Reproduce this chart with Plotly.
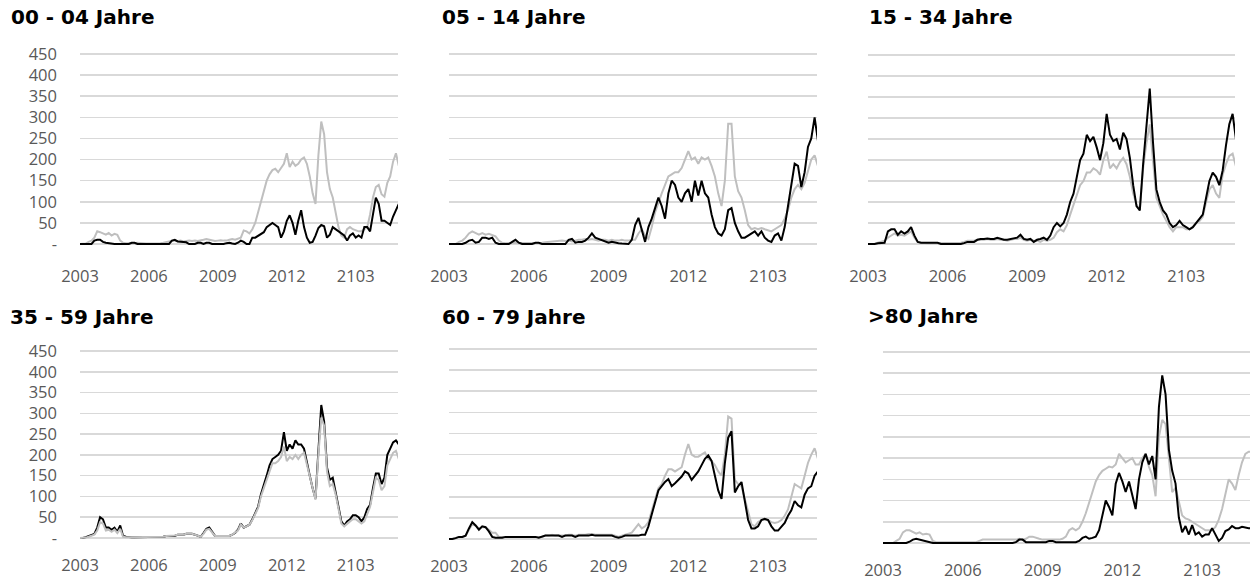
import plotly.graph_objects as go

# ---------------- data ----------------
# time axis: one point every 1/8 year from 2003.0
years = [2003 + i / 8 for i in range(112)]
tick_vals = [2003, 2006, 2009, 2012, 2015]
tick_text = ["2003", "2006", "2009", "2012", "2103"]
y_ticks = [0, 50, 100, 150, 200, 250, 300, 350, 400, 450]
y_tick_text = ["-", "50", "100", "150", "200", "250", "300", "350", "400", "450"]

titles = ["00 - 04 Jahre", "05 - 14 Jahre", "15 - 34 Jahre",
          "35 - 59 Jahre", "60 - 79 Jahre", ">80 Jahre"]

gray_00_04 = [
    0, 0, 1, 5, 8, 15, 30, 28,
    25, 22, 26, 20, 24, 22, 8, 3,
    2, 2, 1, 2, 3, 2, 1, 1,
    1, 1, 1, 2, 2, 3, 5, 6,
    7, 8, 7, 8, 6, 7, 8, 7,
    8, 7, 8, 10, 12, 10, 8, 7,
    8, 9, 8, 8, 10, 12, 10, 12,
    15, 32, 30, 25, 35, 50, 75, 105,
    125, 150, 165, 175, 178, 170, 180, 190,
    215, 182, 195, 185, 190, 200, 205, 190,
    160, 120, 95, 210, 290, 260, 170, 130,
    110, 75, 40, 20, 15, 35, 40, 35,
    32, 30, 30, 35, 40, 70, 110, 135,
    140, 118, 112, 145, 160, 195, 215, 185]
black_00_04 = [
    0, 0, 0, 0, 0, 8, 10, 10,
    5, 3, 2, 0, 0, 0, 0, 0,
    0, 0, 3, 3, 0, 0, 0, 0,
    0, 0, 0, 0, 0, 0, 0, 0,
    8, 10, 6, 5, 5, 4, 0, 0,
    0, 3, 3, 0, 3, 3, 0, 0,
    0, 0, 0, 2, 3, 1, 0, 3,
    8, 5, 0, 0, 15, 15, 20, 25,
    28, 40, 45, 50, 45, 40, 15, 30,
    55, 68, 50, 22, 55, 80, 40, 15,
    3, 5, 20, 38, 45, 42, 15, 22,
    40, 35, 30, 25, 20, 8, 20, 25,
    15, 20, 15, 40, 40, 30, 70, 110,
    95, 55, 55, 50, 45, 65, 80, 95]

gray_05_14 = [
    0, 0, 0, 5, 8, 15, 25, 30,
    25, 22, 26, 22, 24, 20, 18, 8,
    3, 2, 2, 3, 3, 2, 2, 2,
    2, 2, 2, 3, 3, 4, 5, 6,
    7, 8, 8, 7, 8, 6, 8, 10,
    10, 12, 10, 12, 10, 8, 10, 10,
    8, 10, 8, 8, 10, 8, 8, 10,
    10, 25, 35, 20, 12, 40, 75, 100,
    120, 140, 160, 165, 170, 170, 180, 200,
    220, 200, 205, 190, 205, 200, 205, 185,
    160, 120, 90, 150, 285, 285, 160, 125,
    110, 80, 45, 35, 38, 35, 38, 35,
    32, 30, 35, 40, 45, 60, 80, 110,
    130, 140, 130, 145, 170, 200, 210, 185]
black_05_14 = [
    0, 0, 0, 0, 0, 3, 8, 10,
    3, 5, 15, 15, 12, 15, 3, 0,
    0, 0, 0, 5, 10, 3, 0, 0,
    0, 0, 3, 3, 0, 0, 0, 0,
    0, 0, 0, 0, 10, 12, 3, 5,
    5, 8, 15, 25, 15, 12, 8, 5,
    3, 5, 3, 2, 1, 0, 0, 10,
    45, 62, 30, 5, 40, 60, 85, 110,
    90, 60, 120, 150, 140, 110, 100, 120,
    130, 100, 150, 115, 150, 120, 110, 70,
    40, 25, 20, 35, 80, 85, 50, 30,
    15, 15, 20, 25, 30, 20, 30, 15,
    8, 5, 20, 25, 8, 40, 90, 150,
    190, 185, 135, 170, 230, 250, 300, 245]

gray_15_34 = [
    0, 0, 0, 3, 5, 8, 15, 20,
    25, 20, 22, 20, 25, 30, 15, 5,
    3, 2, 2, 2, 2, 2, 2, 2,
    2, 2, 2, 3, 3, 5, 8, 8,
    8, 10, 10, 10, 12, 10, 10, 12,
    10, 10, 8, 10, 12, 12, 15, 10,
    8, 10, 8, 8, 5, 10, 8, 10,
    15, 28, 35, 30, 45, 70, 95, 120,
    140, 150, 170, 170, 180, 175, 165, 200,
    220, 180, 190, 180, 195, 205, 190, 160,
    120, 95, 80, 180, 240, 285, 190, 110,
    90, 70, 55, 40, 30, 40, 40, 40,
    35, 35, 40, 50, 55, 65, 100, 130,
    140, 120, 110, 165, 190, 210, 215, 185]
black_15_34 = [
    0, 0, 0, 2, 3, 3, 30, 35,
    35, 22, 30, 25, 30, 40, 20, 5,
    3, 3, 3, 3, 3, 3, 0, 0,
    0, 0, 0, 0, 0, 2, 5, 5,
    5, 10, 12, 12, 13, 12, 12, 15,
    12, 10, 10, 12, 14, 15, 22, 12,
    10, 12, 5, 10, 12, 15, 10, 20,
    40, 50, 42, 50, 70, 100, 120, 160,
    200, 215, 260, 245, 255, 230, 200, 240,
    310, 260, 245, 250, 225, 265, 250, 205,
    140, 90, 80, 190, 280, 370, 240, 130,
    100, 80, 70, 50, 40, 45, 55, 45,
    40, 35, 40, 50, 58, 70, 110, 150,
    170, 160, 140, 175, 235, 285, 310, 250]

gray_35_59 = [
    0, 0, 1, 3, 5, 8, 18, 38,
    35, 18, 20, 15, 20, 12, 22, 3,
    2, 2, 2, 2, 2, 2, 2, 2,
    2, 2, 2, 2, 3, 3, 5, 5,
    5, 6, 8, 8, 8, 10, 10, 10,
    8, 5, 3, 10, 20, 22, 12, 5,
    5, 5, 5, 5, 5, 8, 12, 18,
    33, 25, 28, 32, 43, 58, 72, 100,
    120, 145, 165, 180, 180, 185, 195, 220,
    185, 195, 190, 200, 190, 200, 205, 175,
    145, 115, 92, 200, 290, 270, 160, 125,
    130, 105, 65, 35, 28, 35, 40, 45,
    45, 40, 35, 40, 60, 75, 110, 145,
    140, 115, 125, 175, 190, 205, 210, 190]
black_35_59 = [
    0, 0, 2, 5, 8, 10, 25, 50,
    45, 25, 25, 20, 25, 15, 30, 5,
    3, 2, 2, 2, 2, 2, 2, 2,
    2, 2, 2, 2, 2, 3, 5, 5,
    5, 5, 8, 8, 8, 10, 10, 10,
    8, 5, 3, 12, 22, 25, 15, 5,
    5, 5, 5, 5, 5, 8, 12, 20,
    35, 25, 28, 32, 45, 60, 75, 105,
    125, 150, 175, 190, 195, 200, 210, 255,
    210, 225, 215, 235, 225, 225, 215, 180,
    150, 120, 95, 210, 320, 280, 170, 140,
    145, 110, 70, 40, 30, 40, 45, 55,
    55, 50, 40, 50, 70, 80, 120, 155,
    155, 130, 145, 200, 215, 230, 235, 225]

gray_60_79 = [
    0, 0, 2, 5, 5, 8, 22, 35,
    32, 25, 28, 28, 22, 15, 15, 5,
    5, 5, 5, 5, 5, 5, 5, 5,
    5, 5, 5, 5, 5, 8, 8, 10,
    8, 8, 8, 8, 10, 10, 8, 10,
    10, 10, 12, 12, 10, 10, 10, 10,
    10, 10, 8, 5, 8, 10, 12, 15,
    25, 35, 25, 30, 40, 65, 95, 120,
    130, 150, 165, 165, 160, 165, 170, 200,
    225, 200, 195, 195, 200, 205, 190, 185,
    175, 160, 150, 200, 290, 285, 140, 130,
    125, 95, 60, 35, 30, 40, 45, 45,
    45, 40, 38, 40, 45, 55, 70, 100,
    130, 125, 120, 150, 180, 200, 215, 190]
black_60_79 = [
    0, 0, 2, 5, 5, 8, 25, 40,
    32, 22, 30, 28, 18, 5, 3, 3,
    3, 5, 5, 5, 5, 5, 5, 5,
    5, 5, 5, 3, 5, 8, 8, 8,
    8, 8, 5, 8, 8, 8, 5, 8,
    8, 8, 8, 10, 8, 8, 8, 8,
    8, 8, 5, 3, 5, 8, 8, 8,
    8, 8, 10, 10, 30, 60, 90, 115,
    125, 135, 142, 125, 132, 140, 148, 160,
    155, 140, 150, 160, 175, 190, 198, 185,
    150, 115, 95, 180, 240, 255, 110, 125,
    135, 90, 45, 25, 25, 30, 45, 48,
    45, 30, 20, 20, 30, 38, 55, 68,
    90, 80, 75, 105, 120, 125, 150, 160]

gray_80_plus = [
    0, 0, 0, 0, 5, 10, 25, 30,
    30, 25, 22, 25, 20, 22, 20, 5,
    2, 2, 2, 2, 2, 2, 2, 2,
    2, 2, 2, 2, 2, 5, 8, 8,
    8, 8, 8, 8, 8, 8, 8, 8,
    8, 10, 8, 10, 15, 15, 12, 10,
    8, 8, 8, 8, 8, 8, 10, 15,
    30, 35, 30, 35, 50, 70, 95, 120,
    145, 160, 170, 175, 180, 178, 185, 210,
    200, 190, 195, 200, 185, 185, 200, 210,
    180, 160, 110, 250, 290, 280, 200, 120,
    130, 100, 65, 58, 55, 50, 45, 40,
    35, 30, 30, 30, 38, 55, 80, 115,
    150, 140, 125, 160, 190, 210, 215, 215]
black_80_plus = [
    0, 0, 0, 0, 0, 0, 0, 0,
    3, 8, 10, 8, 5, 3, 2, 0,
    0, 0, 0, 0, 0, 0, 0, 0,
    0, 0, 0, 0, 0, 0, 0, 0,
    0, 0, 0, 0, 0, 0, 0, 0,
    2, 8, 8, 2, 2, 2, 2, 2,
    2, 2, 5, 5, 2, 2, 2, 2,
    2, 2, 2, 5, 12, 15, 10, 12,
    15, 30, 65, 100, 85, 65, 140, 165,
    145, 120, 145, 110, 80, 150, 190, 210,
    185, 205, 150, 320, 395, 350, 220, 170,
    140, 60, 25, 40, 20, 42, 20, 25,
    15, 20, 20, 35, 20, 5, 12, 28,
    32, 40, 35, 35, 38, 36, 35, 35]

gray_series = [gray_00_04, gray_05_14, gray_15_34, gray_35_59, gray_60_79, gray_80_plus]
black_series = [black_00_04, black_05_14, black_15_34, black_35_59, black_60_79, black_80_plus]

# ---------------- layout ----------------
W, H = 1250, 580
GRAY = "#bfbfbf"
BLACK = "#000000"
TICK_FONT = dict(family="Open Sans", size=16.5, color="#595959")
PAD = 4  # value padding so lines at 0 are not clipped

# (x_left, x_right, y_top(450), y_bottom(0), x_end_year, show_y_labels, x_label_standoff, title_x, title_y, gray_on_top)
panels = [
    (80, 398, 54, 244, 2016.84, True, 19, 9, 17, False),
    (449, 817, 54, 244, 2016.84, False, 19, 440, 17, False),
    (868, 1235, 55, 244, 2016.84, False, 19, 867, 17, False),
    (80, 398, 351, 538, 2016.84, True, 14, 8, 317, True),
    (449, 817, 349, 539, 2016.84, False, 14, 440, 317, False),
    (883, 1250, 352, 543, 2016.80, False, 14, 866, 316, False),
]

fig = go.Figure()
layout = dict(
    width=W, height=H,
    margin=dict(l=0, r=0, t=0, b=0, pad=0, autoexpand=False),
    paper_bgcolor="white", plot_bgcolor="white",
    showlegend=False,
    hovermode=False,
    annotations=[],
)

for i, (xl, xr, yt, yb, xend, show_y, xstand, tx, ty, gray_top) in enumerate(panels):
    n = i + 1
    k = (yb - yt) / 450.0
    top = yt - PAD * k
    bot = yb + PAD * k
    xa = "x" if n == 1 else f"x{n}"
    ya = "y" if n == 1 else f"y{n}"
    gtrace = go.Scatter(x=years, y=gray_series[i], mode="lines",
                        line=dict(color=GRAY, width=2), xaxis=xa, yaxis=ya,
                        hoverinfo="skip")
    btrace = go.Scatter(x=years, y=black_series[i], mode="lines",
                        line=dict(color=BLACK, width=2), xaxis=xa, yaxis=ya,
                        hoverinfo="skip")
    if gray_top:
        fig.add_trace(btrace)
        fig.add_trace(gtrace)
    else:
        fig.add_trace(gtrace)
        fig.add_trace(btrace)

    layout["xaxis" if n == 1 else f"xaxis{n}"] = dict(
        domain=[xl / W, xr / W], anchor=ya, automargin=False,
        range=[2003, xend], tickmode="array",
        tickvals=tick_vals, ticktext=tick_text,
        showgrid=False, zeroline=False, showline=False, ticks="",
        tickfont=TICK_FONT, ticklabelstandoff=xstand,
    )
    layout["yaxis" if n == 1 else f"yaxis{n}"] = dict(
        domain=[1 - bot / H, 1 - top / H], anchor=xa, automargin=False,
        range=[-PAD, 450 + PAD], tickmode="array",
        tickvals=y_ticks, ticktext=y_tick_text,
        showgrid=True, gridcolor="#d9d9d9", gridwidth=1.5,
        zeroline=False, showline=False, ticks="",
        showticklabels=show_y, tickfont=TICK_FONT, ticklabelstandoff=22,
    )
    layout["annotations"].append(dict(
        text=f"<b>{titles[i]}</b>", xref="paper", yref="paper",
        x=tx / W, y=1 - ty / H, xanchor="left", yanchor="middle",
        showarrow=False, font=dict(family="DejaVu Sans", size=20, color="#000000"),
    ))

fig.update_layout(**layout)
fig.write_html(
    "out.html",
    config={"displayModeBar": False, "staticPlot": True},
    post_script="document.body.style.margin='0';document.body.style.overflow='hidden';",
)
